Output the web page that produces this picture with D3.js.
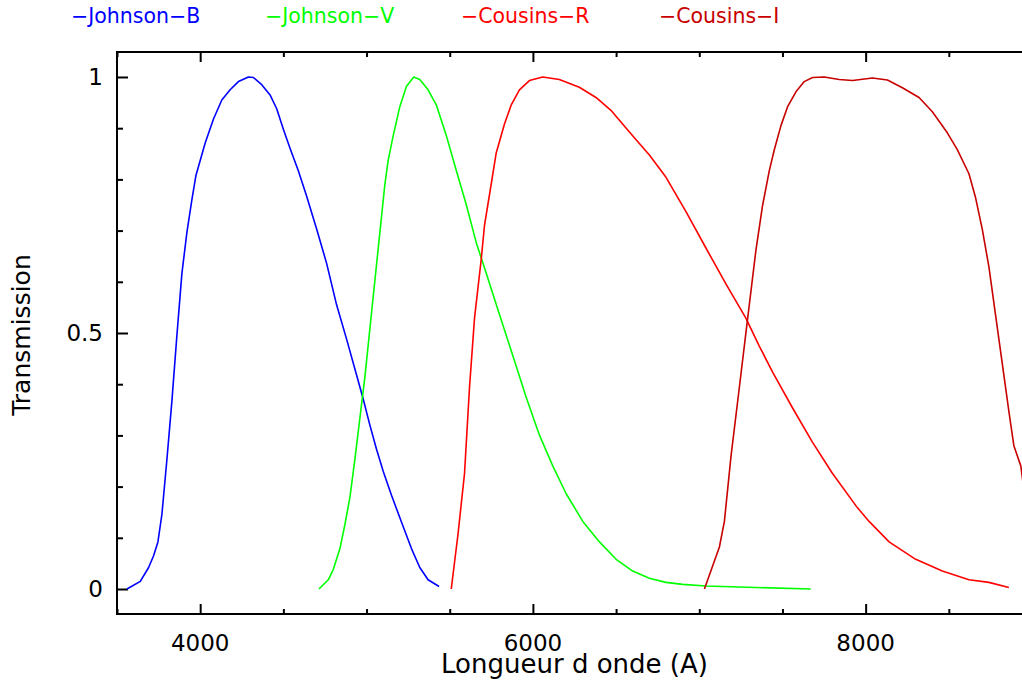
<!DOCTYPE html>
<html>
<head>
<meta charset="utf-8">
<script src="https://cdn.jsdelivr.net/npm/d3@7"></script>
<style>
  body { margin: 0; background: #fff; }
  text { font-family: "DejaVu Sans", sans-serif; }
</style>
</head>
<body>
<script>
// filter curves, wavelength (A) and transmission
var bLambda = [3560, 3640, 3690, 3720, 3746, 3770, 3800, 3830, 3860, 3890, 3920, 3950, 3974, 4030, 4080, 4130, 4180, 4230, 4290, 4320, 4370, 4420, 4460, 4500, 4540, 4590, 4640, 4700, 4760, 4820, 4880, 4940, 4980, 5020, 5060, 5100, 5150, 5220, 5270, 5320, 5370, 5436];
var bTrans  = [0, 0.015, 0.042, 0.065, 0.092, 0.146, 0.253, 0.367, 0.495, 0.616, 0.696, 0.760, 0.807, 0.871, 0.918, 0.955, 0.975, 0.991, 1.0, 0.999, 0.985, 0.965, 0.938, 0.898, 0.861, 0.817, 0.767, 0.703, 0.636, 0.555, 0.488, 0.418, 0.371, 0.320, 0.273, 0.230, 0.183, 0.122, 0.079, 0.042, 0.018, 0.005];

var vLambda = [4714, 4770, 4800, 4840, 4870, 4900, 4930, 4960, 4990, 5020, 5050, 5080, 5110, 5130, 5160, 5200, 5240, 5284, 5320, 5370, 5420, 5480, 5540, 5600, 5660, 5720, 5800, 5880, 5960, 6040, 6120, 6200, 6300, 6400, 6500, 6600, 6700, 6800, 6900, 7040, 7340, 7670];
var vTrans  = [0, 0.018, 0.038, 0.079, 0.126, 0.179, 0.253, 0.334, 0.414, 0.508, 0.602, 0.696, 0.790, 0.837, 0.885, 0.942, 0.982, 1.0, 0.995, 0.975, 0.945, 0.885, 0.817, 0.750, 0.676, 0.616, 0.535, 0.455, 0.374, 0.300, 0.240, 0.186, 0.132, 0.092, 0.058, 0.035, 0.021, 0.013, 0.009, 0.006, 0.003, 0];

var rLambda = [5509, 5549, 5589, 5619, 5649, 5689, 5709, 5739, 5779, 5829, 5869, 5919, 5979, 6059, 6159, 6279, 6379, 6469, 6539, 6619, 6699, 6800, 6920, 7040, 7160, 7280, 7360, 7440, 7560, 7680, 7800, 7950, 8021, 8141, 8301, 8461, 8621, 8741, 8861];
var rTrans  = [0, 0.105, 0.226, 0.394, 0.529, 0.643, 0.710, 0.770, 0.851, 0.908, 0.945, 0.975, 0.993, 1.0, 0.995, 0.980, 0.960, 0.935, 0.908, 0.878, 0.848, 0.804, 0.737, 0.666, 0.596, 0.529, 0.475, 0.424, 0.354, 0.287, 0.226, 0.159, 0.132, 0.092, 0.058, 0.035, 0.018, 0.013, 0.003];

var iLambda = [7031, 7121, 7151, 7191, 7241, 7291, 7341, 7381, 7421, 7451, 7491, 7531, 7581, 7631, 7681, 7751, 7841, 7921, 8041, 8131, 8221, 8321, 8401, 8491, 8551, 8621, 8661, 8701, 8741, 8781, 8821, 8861, 8891, 8933, 8965];
var iTrans  = [0, 0.082, 0.132, 0.260, 0.394, 0.529, 0.663, 0.750, 0.817, 0.858, 0.905, 0.942, 0.971, 0.991, 0.999, 1.0, 0.995, 0.993, 0.998, 0.994, 0.979, 0.960, 0.932, 0.891, 0.858, 0.811, 0.764, 0.703, 0.629, 0.535, 0.441, 0.347, 0.280, 0.240, 0.16];

var seriesNames  = ["Johnson-B", "Johnson-V", "Cousins-R", "Cousins-I"];
var seriesColors = ["#0000ff", "#00ff00", "#ff0000", "#c80000"];
var legendX = [71, 265, 461, 659];

var xMajor = [4000, 6000, 8000];
var yMajor = [0, 0.5, 1];
var yLabels = ["0", "0.5", "1"];

var width = 1022, height = 686;
var plotLeft = 117, plotRight = 1032, plotTop = 52, plotBottom = 614;

var svg = d3.select("body").append("svg")
    .attr("width", width)
    .attr("height", height);

var x = d3.scaleLinear().domain([3500, 9000]).range([plotLeft, plotRight]);
var y = d3.scaleLinear().domain([-0.0488, 1.0488]).range([plotBottom, plotTop]);

var xMinor = d3.range(3500, 9001, 500).filter(function (d) { return xMajor.indexOf(d) < 0; });
var yMinor = d3.range(0, 11).map(function (d) { return d / 10; }).filter(function (d) { return d !== 0 && d !== 0.5 && d !== 1; });

svg.append("rect")
    .attr("x", plotLeft).attr("y", plotTop)
    .attr("width", plotRight - plotLeft).attr("height", plotBottom - plotTop)
    .attr("fill", "none").attr("stroke", "#000").attr("stroke-width", 2);

function tickAxis(axis, translate, values, size) {
    var g = svg.append("g")
        .attr("transform", translate)
        .call(axis.tickValues(values).tickSize(size).tickSizeOuter(0).tickFormat(""));
    g.select(".domain").remove();
    g.selectAll(".tick line").attr("stroke", "#000").attr("stroke-width", 2);
    g.selectAll(".tick text").remove();
    return g;
}

// inward ticks (right side falls outside the picture)
tickAxis(d3.axisBottom(x), "translate(0," + plotBottom + ")", xMajor, -10);
tickAxis(d3.axisBottom(x), "translate(0," + plotBottom + ")", xMinor, -5);
tickAxis(d3.axisTop(x), "translate(0," + plotTop + ")", xMajor, -10);
tickAxis(d3.axisTop(x), "translate(0," + plotTop + ")", xMinor, -5);
tickAxis(d3.axisLeft(y), "translate(" + plotLeft + ",0)", yMajor, -11);
tickAxis(d3.axisLeft(y), "translate(" + plotLeft + ",0)", yMinor, -6);

// tick labels
svg.append("g").selectAll("text")
    .data(xMajor)
    .enter().append("text")
    .attr("x", function (d) { return x(d); })
    .attr("y", 651)
    .attr("text-anchor", "middle")
    .attr("font-size", 23)
    .text(function (d) { return d; });

svg.append("g").selectAll("text")
    .data(yMajor)
    .enter().append("text")
    .attr("x", 103)
    .attr("y", function (d) { return y(d) + 8; })
    .attr("text-anchor", "end")
    .attr("font-size", 23)
    .text(function (d, i) { return yLabels[i]; });

// axis titles
svg.append("text")
    .attr("x", (plotLeft + plotRight) / 2)
    .attr("y", 673)
    .attr("text-anchor", "middle")
    .attr("font-size", 26)
    .text("Longueur d onde (A)");

svg.append("text")
    .attr("transform", "translate(30," + ((plotTop + plotBottom) / 2 + 2) + ") rotate(-90)")
    .attr("text-anchor", "middle")
    .attr("font-size", 25)
    .text("Transmission");

// curves
var line = d3.line()
    .x(function (d) { return x(d[0]); })
    .y(function (d) { return y(d[1]); });

var curves = [d3.zip(bLambda, bTrans), d3.zip(vLambda, vTrans), d3.zip(rLambda, rTrans), d3.zip(iLambda, iTrans)];

svg.append("defs").append("clipPath").attr("id", "plotclip")
    .append("rect").attr("x", plotLeft).attr("y", plotTop)
    .attr("width", plotRight - plotLeft).attr("height", plotBottom - plotTop);

svg.append("g").attr("clip-path", "url(#plotclip)")
    .selectAll("path")
    .data(curves)
    .enter().append("path")
    .attr("d", line)
    .attr("fill", "none")
    .attr("stroke-width", 1.6)
    .attr("stroke-linejoin", "round")
    .attr("stroke", function (d, i) { return seriesColors[i]; });

// legend along the top
svg.append("g").selectAll("text")
    .data(seriesNames)
    .enter().append("text")
    .attr("x", function (d, i) { return legendX[i]; })
    .attr("y", 23)
    .attr("font-size", 20.5)
    .attr("fill", function (d, i) { return seriesColors[i]; })
    .text(function (d) { return "\u2212" + d.replace("-", "\u2212"); });
</script>
</body>
</html>
